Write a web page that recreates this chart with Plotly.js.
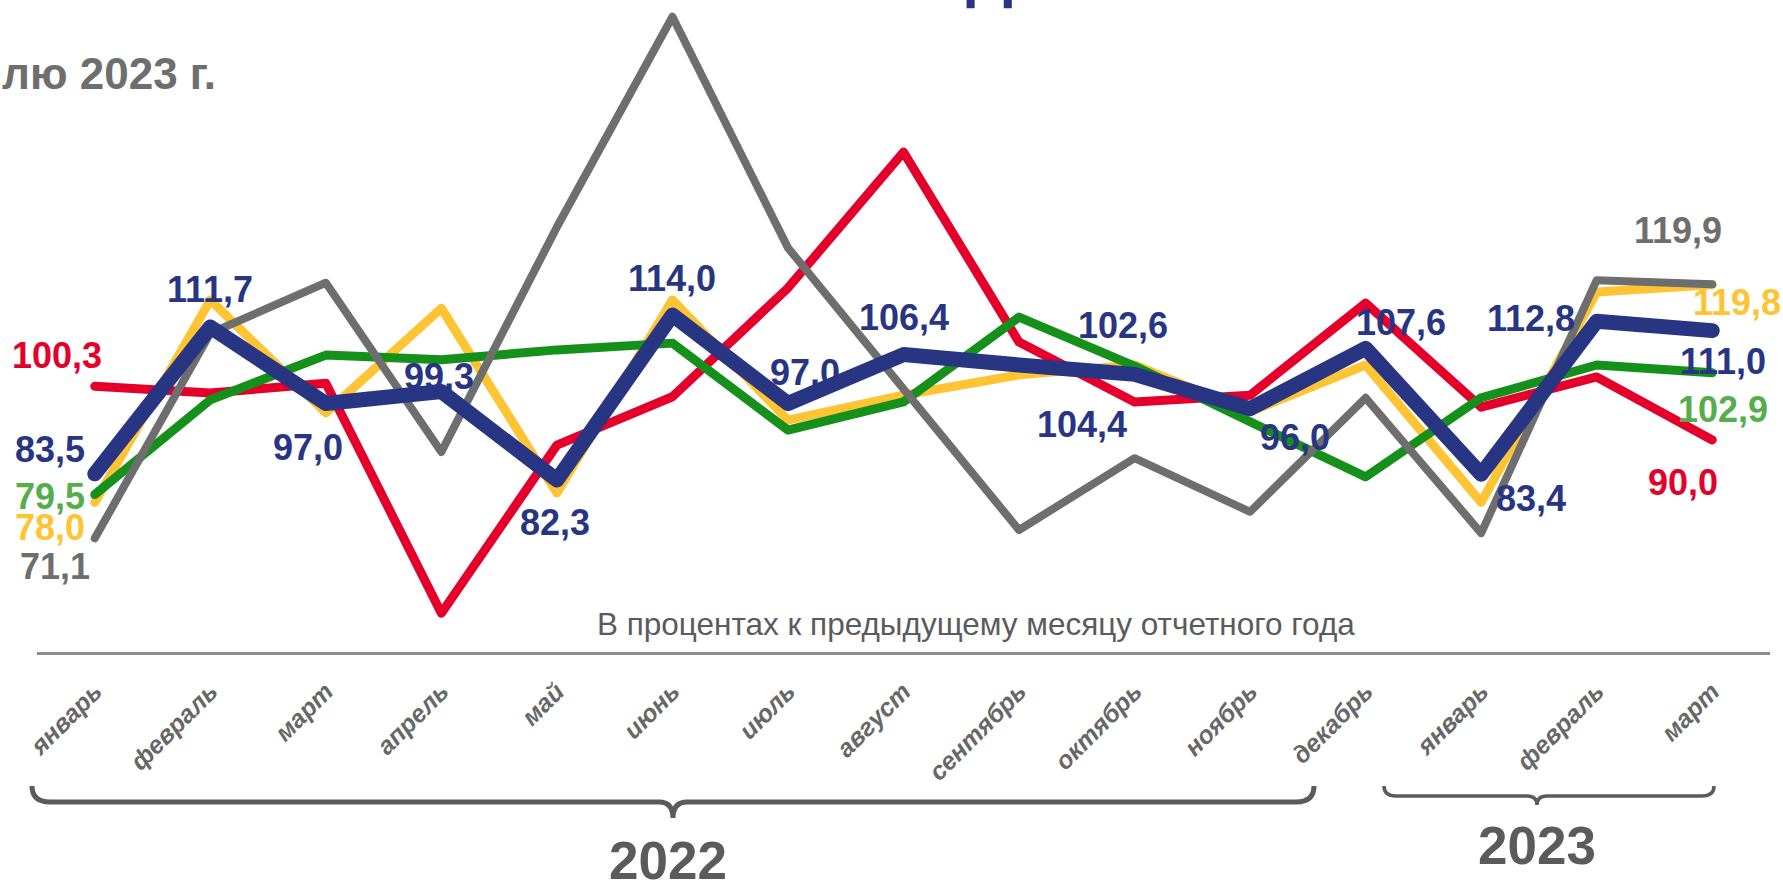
<!DOCTYPE html>
<html>
<head>
<meta charset="utf-8">
<script src="https://cdn.plot.ly/plotly-3.0.1.min.js"></script>
<style>
  html, body { margin: 0; padding: 0; background: #fff; }
  #chart { width: 1783px; height: 880px; }
  .scatterlayer .js-line { stroke-linecap: round !important; stroke-linejoin: round !important; }
</style>
</head>
<body>
<div id="chart"></div>
<script>
// ---------- DATA ----------
const months = ['январь','февраль','март','апрель','май','июнь','июль','август','сентябрь','октябрь','ноябрь','декабрь','январь','февраль','март'];
const years = ['2022', '2023'];
const seriesBlue   = [83.5, 111.7, 97.0, 99.3, 82.3, 114.0, 97.0, 106.4, 104.4, 102.6, 96.0, 107.6, 83.4, 112.8, 111.0];
const seriesRed    = [100.3, 99.0, 100.9, 56.7, 89.0, 98.3, 119.2, 145.3, 108.8, 97.3, 98.6, 116.3, 96.3, 102.1, 90.0];
const seriesYellow = [78.0, 116.9, 95.2, 115.3, 79.8, 116.9, 93.8, 98.6, 102.5, 104.4, 95.4, 104.4, 78.0, 118.4, 119.8];
const seriesGreen  = [79.5, 97.7, 106.3, 105.4, 107.3, 108.6, 91.9, 97.3, 113.6, 104.2, 93.5, 82.9, 98.1, 104.4, 102.9];
const seriesGray   = [71.1, 110.5, 120.2, 87.7, 130.9, 171.3, 126.9, 100.0, 72.7, 86.5, 76.2, 98.1, 72.1, 120.7, 119.9];
const subtitleText = 'В процентах к предыдущему месяцу отчетного года';
const cornerText = 'лю 2023 г.';

// ---------- STYLE / GEOMETRY ----------
const W = 1783, H = 880;
const M = { l: 37, r: 13, t: 0, b: 228 };
const PW = W - M.l - M.r, PH = H - M.t - M.b;
const px = p => (p - M.l) / PW;          // pixel x -> paper
const py = p => (PH + M.t - p) / PH;     // pixel y -> paper

const C = {
  blue: '#283583', red: '#e4002b', yellow: '#fec433', green: '#15901b', gray: '#6e6e6e',
  greenLabel: '#55ad4b', text: '#5b5b5b', tick: '#676767', axis: '#8c8c8c'
};
const FAM = 'Liberation Sans, Arial, sans-serif';
const xs = months.map((_, i) => i);
const fmt = v => v.toFixed(1).replace('.', ',');

function line(y, color, width, name) {
  return { type: 'scatter', mode: 'lines', x: xs, y: y, name: name,
           line: { color: color, width: width }, hoverinfo: 'skip', cliponaxis: false };
}
const traces = [
  line(seriesYellow, C.yellow, 9, 'yellow'),
  line(seriesRed, C.red, 9, 'red'),
  line(seriesGreen, C.green, 9, 'green'),
  line(seriesGray, C.gray, 8, 'gray'),
  line(seriesBlue, C.blue, 15, 'blue')
];

// label offsets (pixels) for each labelled point
const blueOffsets = [[-45,24],[0,37],[-18,-44],[-2,15],[-2,-42],[0,37],[17,31],[0,37],[63,-60],[-12,49],[45,-29],[35,26],[50,-24],[-66,3],[11,-31]];
const endLabels = [
  { s: seriesRed,    c: C.red,        first: [-38, 31],  last: [-29, -43] },
  { s: seriesGreen,  c: C.greenLabel, first: [-45, -2],  last: [11, -37] },
  { s: seriesYellow, c: C.yellow,     first: [-45, -25], last: [25, -18] },
  { s: seriesGray,   c: C.gray,       first: [-40, -28], last: [-34, 54] }
];
const labFont = (c) => ({ family: FAM, size: 36, color: c, weight: 'bold' });

const annotations = [];
seriesBlue.forEach((v, i) => {
  annotations.push({ x: i, y: v, xref: 'x', yref: 'y', text: fmt(v), showarrow: false,
    xanchor: 'center', yanchor: 'middle', xshift: blueOffsets[i][0], yshift: blueOffsets[i][1], font: labFont(C.blue) });
});
endLabels.forEach(e => {
  const n = e.s.length - 1;
  annotations.push({ x: 0, y: e.s[0], xref: 'x', yref: 'y', text: fmt(e.s[0]), showarrow: false,
    xanchor: 'center', yanchor: 'middle', xshift: e.first[0], yshift: e.first[1], font: labFont(e.c) });
  annotations.push({ x: n, y: e.s[n], xref: 'x', yref: 'y', text: fmt(e.s[n]), showarrow: false,
    xanchor: 'center', yanchor: 'middle', xshift: e.last[0], yshift: e.last[1], font: labFont(e.c) });
});
// subtitle inside plot
annotations.push({ xref: 'paper', yref: 'paper', x: px(976), y: py(624), text: subtitleText, showarrow: false,
  xanchor: 'center', yanchor: 'middle', font: { family: FAM, size: 31.5, color: C.text } });
// clipped header fragment
annotations.push({ xref: 'paper', yref: 'paper', x: px(0), y: py(73), text: cornerText, showarrow: false,
  xanchor: 'left', yanchor: 'middle', font: { family: FAM, size: 44, color: C.gray, weight: 'bold' } });
// clipped title fragment
annotations.push({ xref: 'paper', yref: 'paper', x: px(989), y: py(-28), text: 'Д', showarrow: false,
  xanchor: 'center', yanchor: 'middle', font: { family: FAM, size: 66, color: C.blue, weight: 'bold' } });
// year labels
annotations.push({ xref: 'paper', yref: 'paper', x: px(668), y: py(860), text: years[0], showarrow: false,
  xanchor: 'center', yanchor: 'middle', font: { family: FAM, size: 53, color: C.text, weight: 'bold' } });
annotations.push({ xref: 'paper', yref: 'paper', x: px(1537), y: py(845), text: years[1], showarrow: false,
  xanchor: 'center', yanchor: 'middle', font: { family: FAM, size: 53, color: C.text, weight: 'bold' } });

// braces
function brace(x0, x1, xc, yTop, yH, yTip, r, r2) {
  const P = (x, y) => px(x) + ',' + py(y);
  return 'M' + P(x0, yTop) + ' Q' + P(x0, yH) + ' ' + P(x0 + r, yH) +
         ' L' + P(xc - r2, yH) + ' Q' + P(xc, yH) + ' ' + P(xc, yTip) +
         ' Q' + P(xc, yH) + ' ' + P(xc + r2, yH) +
         ' L' + P(x1 - r, yH) + ' Q' + P(x1, yH) + ' ' + P(x1, yTop);
}
const shapes = [
  { type: 'path', xref: 'paper', yref: 'paper', path: brace(32, 1314, 673, 786, 802, 818, 18, 14),
    line: { color: C.text, width: 5 } },
  { type: 'path', xref: 'paper', yref: 'paper', path: brace(1384, 1714, 1537, 786, 796, 805, 12, 10),
    line: { color: C.text, width: 3.5 } }
];

const layout = {
  width: W, height: H,
  margin: M,
  paper_bgcolor: '#ffffff', plot_bgcolor: '#ffffff',
  showlegend: false,
  xaxis: {
    range: [-0.5, 14.5], tickvals: xs, ticktext: months, tickangle: -45,
    showline: true, linecolor: C.axis, linewidth: 3, showgrid: false, zeroline: false,
    ticks: '', ticklabelstandoff: 12,
    tickfont: { family: FAM, size: 25, color: C.tick, weight: 'bold', style: 'italic' }
  },
  yaxis: { range: [49.26, 174.52], visible: false, showgrid: false, zeroline: false },
  annotations: annotations,
  shapes: shapes
};

Plotly.newPlot('chart', traces, layout, { displayModeBar: false, staticPlot: true });
</script>
</body>
</html>
